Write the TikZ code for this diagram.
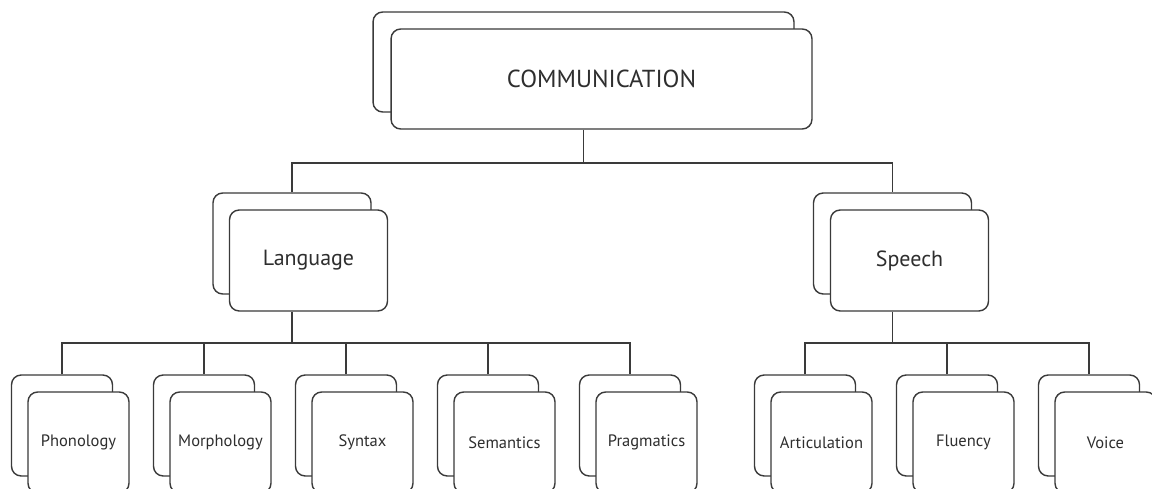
\documentclass[tikz,border=0pt]{standalone}
\usepackage{fontspec}
\setmainfont{PT Sans}
\usetikzlibrary{positioning}
\definecolor{linegray}{HTML}{3A3A3A}
\definecolor{textgray}{HTML}{2E2E2E}
\tikzset{
    card/.style={rectangle, draw=linegray, line width=0.8pt, rounded corners=5.5pt, fill=white, inner sep=0pt, text=textgray},
    bigcard/.style={card, minimum width=8.42cm, minimum height=2cm, font=\fontsize{14}{17}\selectfont},
    midcard/.style={card, minimum width=3.16cm, minimum height=2.02cm, font=\fontsize{12.5}{15}\selectfont},
    smallcard/.style={card, minimum width=2.02cm, minimum height=2.02cm, font=\fontsize{9.4}{11}\selectfont},
    link/.style={draw=linegray, line width=0.8pt}
}

\begin{document}
\begin{tikzpicture}[x=0.02cm, y=-0.02cm]
        \path[use as bounding box, clip] (0,0) rectangle (1152,489);

        % Nodes
        \node[bigcard] (comm-back) at (583.5, 62) {};
        \node[bigcard] (comm) at (601.5, 79) {COMMUNICATION};

        \node[midcard] (lang-back) at (292, 243.5) {};
        \node[midcard] (lang) at (308.5, 260.5) {Language};
        \node[midcard] (speech-back) at (892.5, 243.5) {};
        \node[midcard] (speech) at (909.5, 260.5) {Speech};

        \foreach \name/\label/\x in {phon/Phonology/62, morph/Morphology/204, syn/Syntax/346, sem/Semantics/488, prag/Pragmatics/630, art/Articulation/805, flu/Fluency/947, voice/Voice/1089} {
            \node[smallcard] (\name-back) at (\x, 425.5) {};
            \node[smallcard] (\name) at (\x+16.5, 442.5) {\label};
        }

        % Lines
        \coordinate (comm-bar) at (583.5, 163);
        \coordinate (lang-bar) at (292, 343);
        \coordinate (speech-bar) at (892.5, 343);

        \draw[link] (comm.south -| comm-back.south) -- (comm-bar);
        \draw[link] (lang-back.north) |- (comm-bar) -| (speech-back.north);

        \draw[link] (lang.south -| lang-back.south) -- (lang-bar);
        \draw[link] (phon-back.north) |- (lang-bar) -| (prag-back.north);
        \foreach \name in {morph, syn, sem}
            \draw[link] (\name-back.north) -- (\name-back.north |- lang-bar);

        \draw[link] (speech.south -| speech-back.south) -- (speech-bar);
        \draw[link] (art-back.north) |- (speech-bar) -| (voice-back.north);
        \draw[link] (flu-back.north) -- (flu-back.north |- speech-bar);
\end{tikzpicture}
\end{document}
